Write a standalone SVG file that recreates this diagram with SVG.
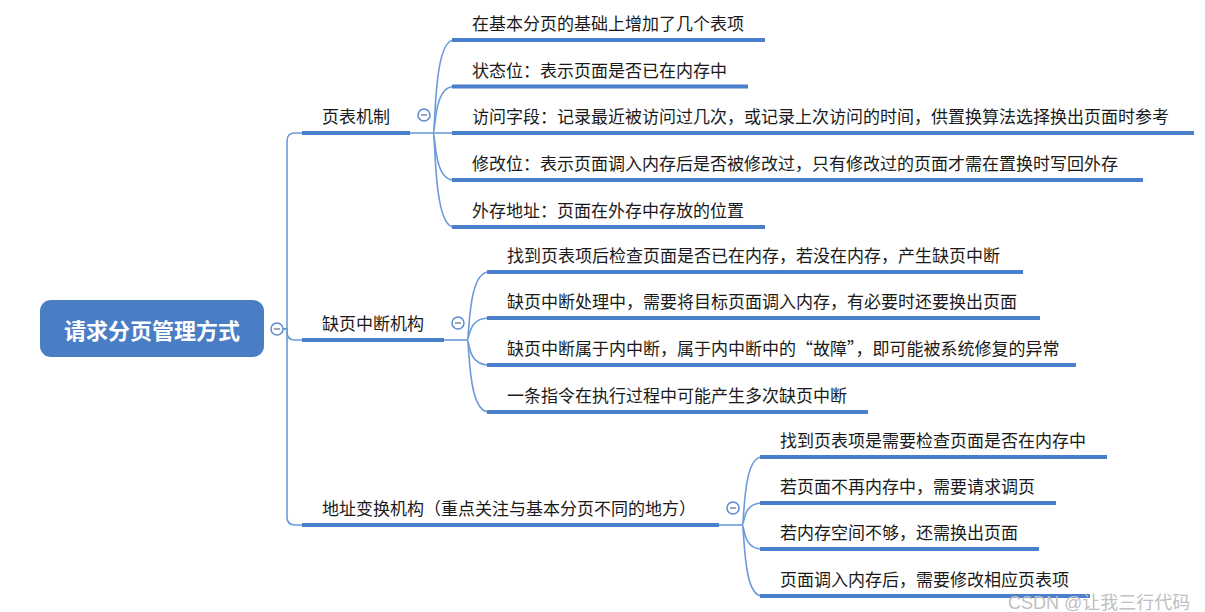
<svg xmlns="http://www.w3.org/2000/svg" width="1205" height="612" viewBox="0 0 1205 612">
<style>
.t{font-family:"Noto Sans CJK SC","Noto Sans",sans-serif;font-size:17px;fill:#1a1a1a}
.root{font-family:"Noto Sans CJK SC","Noto Sans",sans-serif;font-size:22px;font-weight:bold;fill:#fff}
.ul{stroke:#4a7fcb;stroke-width:4;fill:none}
.ln{stroke:#6b9bd8;stroke-width:1.6;fill:none}
.cc{fill:#fff;stroke:#5a8ad0;stroke-width:1.5}
.cm{stroke:#7a8aa0;stroke-width:1.5}
.wm{font-family:"Liberation Sans","Noto Sans CJK SC",sans-serif;font-size:18px;fill:#c0c0c0}
</style>
<rect width="1205" height="612" fill="#fff"/>
<g id="connectors">
<path class="ln" d="M283,329 H287 V141 Q287,133 295,133 H304"/>
<path class="ln" d="M283,329 H287 V332 Q287,340 295,340 H304"/>
<path class="ln" d="M283,329 H287 V517 Q287,525 295,525 H304"/>
<path class="ln" d="M410,133 H433"/>
<path class="ln" d="M433,133 C436,133 433,40 454,40"/>
<path class="ln" d="M433,133 C436,133 433,86.5 454,86.5"/>
<path class="ln" d="M433,133 H454"/>
<path class="ln" d="M433,133 C436,133 433,180 454,180"/>
<path class="ln" d="M433,133 C436,133 433,227 454,227"/>
<path class="ln" d="M444,340 H467"/>
<path class="ln" d="M467,340 C470,340 467,272 489,272"/>
<path class="ln" d="M467,340 C470,340 467,318 489,318"/>
<path class="ln" d="M467,340 C470,340 467,365 489,365"/>
<path class="ln" d="M467,340 C470,340 467,412 489,412"/>
<path class="ln" d="M719,525 H742"/>
<path class="ln" d="M742,525 C745,525 742,457 762,457"/>
<path class="ln" d="M742,525 C745,525 742,503 762,503"/>
<path class="ln" d="M742,525 C745,525 742,549 762,549"/>
<path class="ln" d="M742,525 C745,525 742,596 762,596"/>
</g>
<g id="root">
<rect x="40" y="300" width="224" height="57" rx="11" fill="#4a7ec4"/>
<text class="root" x="152" y="339" text-anchor="middle">请求分页管理方式</text>
<circle class="cc" cx="277" cy="329" r="6"/><line class="cm" x1="274" y1="329" x2="280" y2="329"/>
</g>
<g id="b1">
<line class="ul" x1="302" y1="133" x2="410" y2="133"/>
<text class="t" x="322" y="123">页表机制</text>
<circle class="cc" cx="424" cy="115" r="6"/><line class="cm" x1="421" y1="115" x2="427" y2="115"/>
</g>
<g id="b1c1"><line class="ul" x1="452" y1="40" x2="765" y2="40"/><text class="t" x="472" y="30">在基本分页的基础上增加了几个表项</text></g>
<g id="b1c2"><line class="ul" x1="452" y1="86.5" x2="748" y2="86.5"/><text class="t" x="472" y="76.5">状态位：表示页面是否已在内存中</text></g>
<g id="b1c3"><line class="ul" x1="452" y1="133" x2="1194" y2="133"/><text class="t" x="472" y="123">访问字段：记录最近被访问过几次，或记录上次访问的时间，供置换算法选择换出页面时参考</text></g>
<g id="b1c4"><line class="ul" x1="452" y1="180" x2="1143" y2="180"/><text class="t" x="472" y="170">修改位：表示页面调入内存后是否被修改过，只有修改过的页面才需在置换时写回外存</text></g>
<g id="b1c5"><line class="ul" x1="452" y1="227" x2="765" y2="227"/><text class="t" x="472" y="217">外存地址：页面在外存中存放的位置</text></g>
<g id="b2">
<line class="ul" x1="302" y1="340" x2="444" y2="340"/>
<text class="t" x="322" y="330">缺页中断机构</text>
<circle class="cc" cx="458" cy="323" r="6"/><line class="cm" x1="455" y1="323" x2="461" y2="323"/>
</g>
<g id="b2c1"><line class="ul" x1="487" y1="272" x2="1023" y2="272"/><text class="t" x="507" y="262">找到页表项后检查页面是否已在内存，若没在内存，产生缺页中断</text></g>
<g id="b2c2"><line class="ul" x1="487" y1="318" x2="1040" y2="318"/><text class="t" x="507" y="308">缺页中断处理中，需要将目标页面调入内存，有必要时还要换出页面</text></g>
<g id="b2c3"><line class="ul" x1="487" y1="365" x2="1076" y2="365"/><text class="t" x="507" y="355">缺页中断属于内中断，属于内中断中的“故障”，即可能被系统修复的异常</text></g>
<g id="b2c4"><line class="ul" x1="487" y1="412" x2="868" y2="412"/><text class="t" x="507" y="402">一条指令在执行过程中可能产生多次缺页中断</text></g>
<g id="b3">
<line class="ul" x1="302" y1="525" x2="719" y2="525"/>
<text class="t" x="322" y="515">地址变换机构（重点关注与基本分页不同的地方）</text>
<circle class="cc" cx="733" cy="508" r="6"/><line class="cm" x1="730" y1="508" x2="736" y2="508"/>
</g>
<g id="b3c1"><line class="ul" x1="760" y1="457" x2="1107" y2="457"/><text class="t" x="780" y="447">找到页表项是需要检查页面是否在内存中</text></g>
<g id="b3c2"><line class="ul" x1="760" y1="503" x2="1056" y2="503"/><text class="t" x="780" y="493">若页面不再内存中，需要请求调页</text></g>
<g id="b3c3"><line class="ul" x1="760" y1="549" x2="1039" y2="549"/><text class="t" x="780" y="539">若内存空间不够，还需换出页面</text></g>
<g id="b3c4"><line class="ul" x1="760" y1="596" x2="1090" y2="596"/><text class="t" x="780" y="586">页面调入内存后，需要修改相应页表项</text></g>
<text class="wm" x="1008" y="609">CSDN @让我三行代码</text>
</svg>
